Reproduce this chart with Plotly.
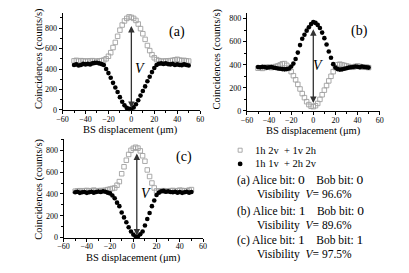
import plotly.graph_objects as go

# ---------------- data ----------------
x_um = [-50, -48, -46, -44, -42, -40, -38, -36, -34, -32, -30, -28, -26, -24, -22, -20, -18,
        -16, -14, -12, -10, -8, -6, -4, -2, 0, 2, 4, 6, 8, 10, 12, 14, 16, 18, 20, 22, 24,
        26, 28, 30, 32, 34, 36, 38, 40, 42, 44, 46, 48, 50]

a_circles = [440, 445, 435, 440, 450, 445, 450, 445, 455, 460, 462, 455, 448, 440, 400, 360, 315,
             265, 220, 175, 125, 80, 45, 20, 10, 12, 25, 55, 95, 140, 185, 230, 280, 325, 370, 410, 440, 452,
             455, 450, 455, 448, 445, 450, 440, 445, 440, 438, 445, 440, 435]
a_squares = [480, 485, 478, 482, 480, 475, 480, 478, 482, 478, 475, 480, 482, 488, 500, 525, 560,
             610, 660, 720, 780, 830, 870, 895, 910, 905, 895, 875, 840, 795, 745, 690, 630, 580, 540, 510, 492, 482,
             478, 475, 480, 478, 482, 485, 490, 495, 488, 482, 485, 480, 478]

b_circles = [380, 378, 382, 380, 375, 378, 380, 375, 372, 368, 365, 362, 360, 362, 368, 385, 410,
             450, 505, 570, 625, 660, 695, 725, 752, 770, 762, 745, 718, 678, 630, 575, 515, 460, 405, 375, 362, 358,
             360, 365, 370, 375, 378, 380, 385, 382, 378, 385, 380, 378, 375]
b_squares = [370, 372, 368, 375, 378, 380, 375, 380, 385, 390, 398, 408, 410, 395, 370, 340, 305,
             270, 230, 190, 150, 115, 80, 55, 40, 37, 45, 65, 100, 140, 180, 220, 260, 300, 340, 375, 400, 405,
             400, 395, 390, 385, 380, 378, 385, 390, 385, 380, 378, 380, 375]

c_circles = [415, 420, 410, 415, 418, 410, 415, 420, 412, 418, 422, 418, 425, 420, 412, 405, 385,
             360, 320, 288, 230, 185, 140, 95, 55, 27, 10, 10, 30, 55, 110, 170, 225, 288, 340, 390, 412, 425,
             428, 420, 425, 418, 415, 420, 412, 418, 410, 415, 420, 412, 418]
c_squares = [425, 428, 430, 425, 430, 432, 428, 430, 435, 430, 428, 432, 430, 435, 440, 445, 450,
             455, 480, 513, 585, 649, 709, 762, 800, 818, 828, 820, 795, 750, 700, 620, 560, 500, 455, 428, 425, 428,
             430, 425, 428, 430, 432, 428, 430, 435, 432, 428, 430, 435, 440]

panels = ["(a)", "(b)", "(c)"]
y_max = [950, 850, 900]
arrow_x = [0, 0, 3]
arrow_lo = [20, 68, 18]
arrow_hi = [836, 720, 784]
v_pos = [(7.5, 404), (4.5, 390), (10.5, 405)]
label_pos = [(40, 760), (41.5, 690), (44, 740)]

x_ticks = [-60, -40, -20, 0, 20, 40, 60]
y_ticks = [0, 200, 400, 600, 800]

x_title = "BS displacement (\u03bcm)"
y_title = "Coincidences (counts/s)"
legend_lines = ["1h 2v\u00a0 + 1v 2h", "1h 1v\u00a0 + 2h 2v"]
bits = [("(a)", "0", "0", "96.6"), ("(b)", "1", "0", "89.6"), ("(c)", "1", "1", "97.5")]

# ---------------- figure ----------------
SERIF = "Liberation Serif, Times New Roman, serif"
W, H = 409, 273
fig = go.Figure()


def px(xp, yp):
    return xp / W, (H - yp) / H


series = [(a_circles, a_squares), (b_circles, b_squares), (c_circles, c_squares)]
# plot-area boxes in pixels: (left, right, top, bottom)
boxes = [(58, 199, 13, 112), (247, 383, 13, 113), (59, 202, 142, 242)]
x_title_pos = [(128, 132), (315, 133), (131, 263)]
y_title_pos = [(34, 60), (216, 60), (34, 193)]

for i, (circ, sq) in enumerate(series):
    xa = "x" if i == 0 else f"x{i+1}"
    ya = "y" if i == 0 else f"y{i+1}"
    fig.add_trace(go.Scatter(x=x_um, y=sq, mode="markers", xaxis=xa, yaxis=ya,
                             marker=dict(symbol="square-open", size=4.5, color="#a0a0a0",
                                         line=dict(width=0.9, color="#a0a0a0")),
                             showlegend=False, cliponaxis=False))
    fig.add_trace(go.Scatter(x=x_um, y=circ, mode="markers", xaxis=xa, yaxis=ya,
                             marker=dict(symbol="circle", size=4.6, color="black"),
                             showlegend=False, cliponaxis=False))
    l, r, t, b = boxes[i]
    xd = [l / W, r / W]
    yd = [(H - b) / H, (H - t) / H]
    axcommon = dict(showline=True, linecolor="black", linewidth=1, mirror=False,
                    showgrid=False, zeroline=False, ticks="outside", ticklen=3,
                    tickwidth=1, tickcolor="black",
                    tickfont=dict(family=SERIF, size=8, color="black"))
    xkey = "xaxis" if i == 0 else f"xaxis{i+1}"
    ykey = "yaxis" if i == 0 else f"yaxis{i+1}"
    fig.update_layout({
        xkey: dict(domain=xd, anchor=ya, range=[-60, 60], tickvals=x_ticks,
                   minor=dict(dtick=10, tick0=0, ticks="outside", ticklen=2, tickcolor="black"),
                   ticklabelstandoff=-2, **axcommon),
        ykey: dict(domain=yd, anchor=xa, range=[0, y_max[i]], tickvals=y_ticks,
                   minor=dict(dtick=100, tick0=0, ticks="outside", ticklen=2, tickcolor="black"),
                   **axcommon),
    })
    # axis titles
    tx, ty = px(*x_title_pos[i])
    fig.add_annotation(x=tx, y=ty, xref="paper", yref="paper", text=x_title, showarrow=False,
                       xanchor="center", yanchor="middle",
                       font=dict(family=SERIF, size=10.5, color="black"))
    tx, ty = px(*y_title_pos[i])
    fig.add_annotation(x=tx, y=ty, xref="paper", yref="paper", text=y_title, showarrow=False,
                       textangle=-90, xanchor="center", yanchor="middle",
                       font=dict(family=SERIF, size=10.5, color="black"))
    # double-headed arrow
    fig.add_annotation(x=arrow_x[i], y=arrow_lo[i], ax=arrow_x[i], ay=arrow_hi[i],
                       xref=xa, yref=ya, axref=xa, ayref=ya, text="", showarrow=True,
                       arrowhead=2, startarrowhead=2, arrowside="end+start",
                       arrowsize=1, startarrowsize=1, arrowwidth=1.3, arrowcolor="#333333")
    fig.add_annotation(x=v_pos[i][0], y=v_pos[i][1], xref=xa, yref=ya, text="<i>V</i>",
                       showarrow=False, font=dict(family=SERIF, size=14, color="black"))
    fig.add_annotation(x=label_pos[i][0], y=label_pos[i][1], xref=xa, yref=ya, text=panels[i],
                       showarrow=False, font=dict(family=SERIF, size=14, color="black"))

# legend-like text block
sx, sy = px(240, 153)
fig.add_shape(type="rect", xref="paper", yref="paper", xsizemode="pixel", ysizemode="pixel",
              xanchor=sx, yanchor=sy, x0=-2, x1=2, y0=-2, y1=2,
              line=dict(color="#a0a0a0", width=0.9), fillcolor="white")
cx, cy = px(240, 167)
fig.add_shape(type="circle", xref="paper", yref="paper", xsizemode="pixel", ysizemode="pixel",
              xanchor=cx, yanchor=cy, x0=-2.4, x1=2.4, y0=-2.4, y1=2.4,
              line=dict(color="black", width=0), fillcolor="black")

for txt, yp in zip(legend_lines, [153, 167]):
    lx, ly = px(253, yp)
    fig.add_annotation(x=lx, y=ly, xref="paper", yref="paper", text=txt, showarrow=False,
                       xanchor="left", yanchor="middle",
                       font=dict(family=SERIF, size=10.5, color="black"))

big = '<span style="font-size:13.5px">{}</span>'
rows = [183, 214, 244]
for (lab, ab, bb, vis), yp in zip(bits, rows):
    lx, ly = px(235, yp)
    t = f"{lab} Alice bit: {big.format(ab)}\u00a0\u00a0\u00a0 Bob bit: {big.format(bb)}"
    fig.add_annotation(x=lx, y=ly, xref="paper", yref="paper", text=t, showarrow=False,
                       xanchor="left", yanchor="middle",
                       font=dict(family=SERIF, size=11.5, color="black"))
    lx2, ly2 = px(255, yp + 15.5)
    fig.add_annotation(x=lx2, y=ly2, xref="paper", yref="paper",
                       text=f"Visibility\u00a0 <i>V</i>= {vis}%", showarrow=False,
                       xanchor="left", yanchor="middle",
                       font=dict(family=SERIF, size=11.5, color="black"))

fig.update_layout(width=W, height=H, margin=dict(l=0, r=0, t=0, b=0),
                  paper_bgcolor="white", plot_bgcolor="white", showlegend=False,
                  font=dict(family=SERIF, color="black"))

fig.write_html("out.html", config={"displayModeBar": False},
               post_script="document.body.style.margin='0px';")
